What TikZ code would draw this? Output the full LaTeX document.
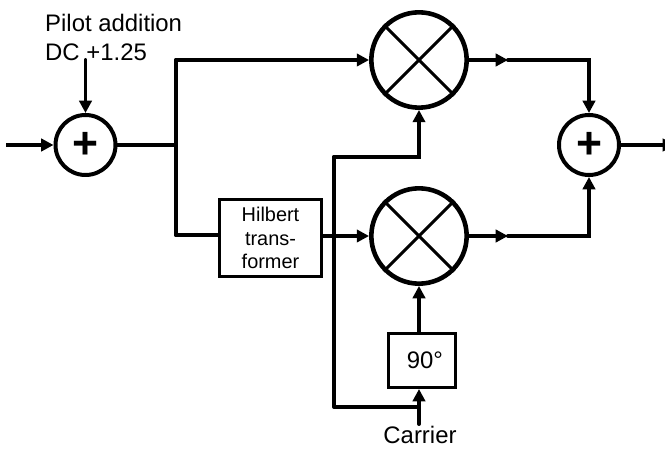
\documentclass[tikz,border=0pt]{standalone}
\usepackage{fontspec}
\setmainfont{Liberation Sans}
\usetikzlibrary{arrows.meta,positioning,calc}

\begin{document}
\begin{tikzpicture}[
    x=0.3mm, y=-0.3mm,
    wire/.style={line width=3.4pt, line cap=round},
    thinwire/.style={line width=2.6pt},
    arr/.style={-{Triangle[length=10.5pt,width=10.5pt]}},
    sumnode/.style={draw, circle, line width=3.4pt, minimum size=1.8cm, inner sep=0pt, font=\fontsize{38}{38}\selectfont\bfseries},
    mixnode/.style={draw, circle, line width=3.9pt, minimum size=2.86cm, inner sep=0pt},
    blockbox/.style={draw, line width=2.6pt, inner sep=0pt, align=center},
    label/.style={font=\fontsize{20.4}{24.7}\selectfont, align=left, inner sep=0pt}
]
\useasboundingbox (0,0) rectangle (665,449);
\node[sumnode] (sumin) at (85.5,145) {+};
\node[sumnode] (sumout) at (589,145) {+};
\node[mixnode] (mixtop) at (419,60) {};
\node[mixnode] (mixbot) at (419,236) {};
\node[blockbox, minimum width=3.08cm, minimum height=2.3cm, font=\fontsize{17}{20}\selectfont] (hilbert) at (270.5,238) {Hilbert\\trans-\\former};
\node[blockbox, minimum width=2.0cm, minimum height=1.62cm, font=\fontsize{20.4}{22}\selectfont] (shift) at (422,360.5) {\hspace{5pt}90°};
\node[label, anchor=north west] (pilot) at (45,14) {Pilot addition\\DC +1.25};
\node[label, anchor=north] (carrier) at (420,426) {Carrier};
\coordinate (input) at (6,145);
\coordinate (output) at (675,145);
\coordinate (pilotend) at (85.5,60);
\coordinate (branch) at (176,145);
\coordinate (branchtop) at (176,60);
\coordinate (branchbot) at (176,235);
\coordinate (tiptop) at (508,60);
\coordinate (tipbot) at (508,236);
\coordinate (loopbot) at (334,407);
\coordinate (looptop) at (334,157);
\coordinate (carrierend) at (419,424);
\coordinate (carriermid) at (419,407);
\coordinate (shiftin) at (419,332);
% crosses in the mixers
\foreach \m in {mixtop,mixbot} {
    \draw[line width=2.6pt] (\m.north west) -- (\m.south east);
    \draw[line width=2.6pt] (\m.north east) -- (\m.south west);
}
\draw[thinwire, arr] (input) -- (sumin.west);
\draw[wire, arr] (pilotend) -- (sumin.north);
\draw[thinwire] (sumin.east) -- (branch);
\draw[wire, arr] (branchtop) -- (mixtop.west);
\draw[wire] (branchtop) -- (branchbot);
\draw[wire] (branchbot) -- (hilbert.west |- branchbot);
\draw[wire, arr] (hilbert.east |- mixbot) -- (mixbot.west);
\draw[wire, arr] (mixtop.east) -- (tiptop);
\draw[wire, arr] (mixbot.east) -- (tipbot);
\draw[wire, arr] (tiptop) -| (sumout.north);
\draw[wire, arr] (tipbot) -| (sumout.south);
\draw[thinwire, arr] (sumout.east) -- (output);
\draw[thinwire] (carriermid) -- (loopbot);
\draw[wire] (loopbot) -- (looptop);
\draw[wire, arr] (looptop) -| (mixtop.south);
\draw[wire, arr] (carrierend) -- (carriermid |- shift.south);
\draw[wire, arr] (shiftin) -- (mixbot.south);
\end{tikzpicture}
\end{document}
